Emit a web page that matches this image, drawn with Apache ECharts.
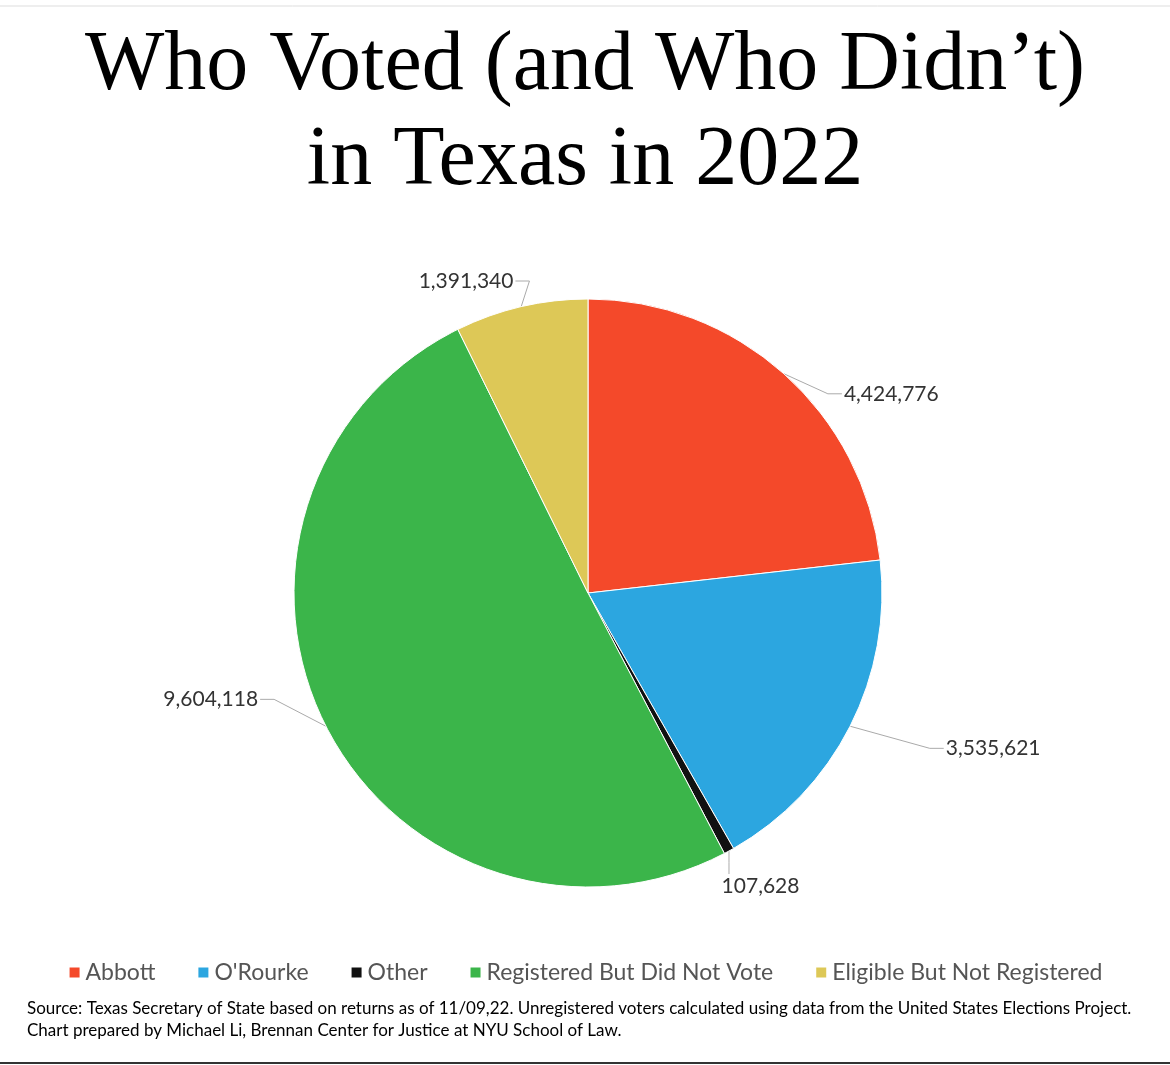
<!DOCTYPE html>
<html>
<head>
<meta charset="utf-8">
<script src="https://cdn.jsdelivr.net/npm/echarts@6/dist/echarts.min.js"></script>
<style>
  html, body { margin: 0; padding: 0; background: #fff; }
  #chart { width: 1170px; height: 1065px; }
</style>
</head>
<body>
<div id="chart"></div>
<script>
  // categories and values, in drawing order (clockwise from 12 o'clock)
  const categories = ['Abbott', "O'Rourke", 'Other', 'Registered But Did Not Vote', 'Eligible But Not Registered']
  const voters = [4424776, 3535621, 107628, 9604118, 1391340]
  const colors = ['#F4492A', '#2CA6E0', '#111111', '#3BB54A', '#DDC857']

  // leader line + label nudges per slice (style only)
  const leader = [
    { length: 12, length2: 30 },
    { length: 40, length2: 55 },
    { length: 20, length2: 8 },
    { length: 20, length2: 45 },
    { length: 12, length2: 10 },
  ]
  const nudge = [
    { dx: 17, dy: 29, side: 'right' },
    { dx: 0, dy: 4, side: 'right' },
    { dx: -30, dy: 18, side: 'below' },
    { dx: 0, dy: -36, side: 'left' },
    { dx: 10, dy: -14, side: 'left' },
  ]

  // re-route the leader line after nudging the label
  function layoutLabel(params) {
    const n = nudge[params.dataIndex]
    const r = params.labelRect
    const p0 = params.labelLinePoints ? params.labelLinePoints[0] : null
    const out = { dx: n.dx, dy: n.dy }
    if (!p0) return out
    const x = r.x + n.dx
    const y = r.y + n.dy
    let end, mid
    if (n.side === 'right') {
      end = [x - 2, y + r.height / 2]
      mid = [end[0] - 14, end[1]]
    } else if (n.side === 'left') {
      end = [x + r.width + 2, y + r.height / 2]
      mid = [end[0] + 14, end[1]]
    } else {
      end = [p0[0], y - 2]
      mid = [p0[0], (p0[1] + end[1]) / 2]
    }
    out.labelLinePoints = [[p0[0], p0[1]], mid, end]
    return out
  }

  const chart = echarts.init(document.getElementById('chart'))

  const option = {
    backgroundColor: '#fff',
    animation: false,
    color: colors,
    title: {
      text: 'Who Voted (and Who Didn\u2019t)\nin Texas in 2022',
      left: 'center',
      top: 14,
      textStyle: {
        fontFamily: 'Liberation Serif',
        fontWeight: 'normal',
        fontSize: 84,
        lineHeight: 95,
        color: '#000',
      },
    },
    legend: {
      data: categories,
      bottom: 76,
      left: 'center',
      icon: 'rect',
      itemWidth: 12,
      itemHeight: 12,
      itemGap: 41,
      textStyle: {
        fontFamily: 'Lato',
        fontSize: 23,
        color: '#555',
      },
    },
    graphic: [
      {
        type: 'text',
        left: 27,
        top: 998,
        style: {
          text: 'Source: Texas Secretary of State based on returns as of 11/09,22. Unregistered voters calculated using data from the United States Elections Project.\nChart prepared by Michael Li, Brennan Center for Justice at NYU School of Law.',
          font: '17px Lato',
          lineHeight: 22,
          fill: '#000',
        },
      },
      {
        type: 'line',
        shape: { x1: 0, y1: 6, x2: 1170, y2: 6 },
        style: { stroke: '#ddd', lineWidth: 1 },
      },
      {
        type: 'line',
        shape: { x1: 0, y1: 1063, x2: 1170, y2: 1063 },
        style: { stroke: '#333', lineWidth: 2 },
      },
    ],
    series: [
      {
        name: 'Texas 2022',
        type: 'pie',
        center: [588, 593],
        radius: 294,
        startAngle: 90,
        clockwise: true,
        avoidLabelOverlap: false,
        itemStyle: {
          borderColor: '#fff',
          borderWidth: 1,
        },
        label: {
          show: true,
          position: 'outside',
          fontFamily: 'Lato',
          fontSize: 21,
          color: '#333',
          formatter: (p) => p.value.toLocaleString('en-US'),
        },
        labelLine: {
          show: true,
          lineStyle: { color: '#aaa', width: 1 },
        },
        labelLayout: layoutLabel,
        data: categories.map((name, i) => ({
          name,
          value: voters[i],
          labelLine: leader[i],
        })),
      },
    ],
  }

  chart.setOption(option)
</script>
</body>
</html>
